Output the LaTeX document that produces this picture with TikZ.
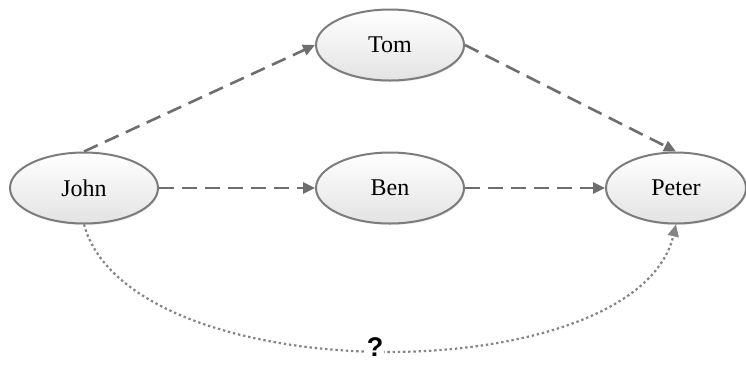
\documentclass[tikz,border=0pt]{standalone}
\usepackage{fontspec}
\setmainfont{Liberation Serif}
\newfontfamily\qfont{Liberation Sans}
\usetikzlibrary{shapes.geometric,arrows.meta,shadows}
\definecolor{edgegray}{HTML}{6E6E6E}
\definecolor{bordergray}{HTML}{7C7C7C}
\tikzset{
  person/.style={ellipse, draw=bordergray, line width=2pt, minimum width=148pt, minimum height=71pt,
    inner sep=0pt, top color=white, bottom color=black!11,
    drop shadow={shadow xshift=1pt, shadow yshift=-1.5pt, opacity=0.18},
    font=\fontsize{24}{28}\selectfont},
  rel/.style={draw=edgegray, line width=2.6pt, dash pattern=on 15pt off 8pt,
    -{Triangle[length=12pt,width=11pt]}, color=edgegray},
  unknown/.style={draw=edgegray!85, line width=2.2pt, dash pattern=on 2.4pt off 2.8pt,
    -{Triangle[length=12pt,width=11pt]}}
}
\begin{document}
\begin{tikzpicture}[x=1pt,y=-1pt]
\useasboundingbox (0,0) rectangle (746,368);
\node[person] (john) at (84,188) {John};
\node[person] (tom) at (390,45) {Tom};
\node[person] (ben) at (390,188) {Ben};
\node[person, minimum width=140pt] (peter) at (676,188) {Peter};
\draw[rel] (john.north) -- (tom.west);
\draw[rel] (tom.east) -- (peter.north);
\draw[rel] (john.east) -- (ben.west);
\draw[rel] (ben.east) -- (peter.west);
\draw[unknown] (john.south) .. controls +(46,168) and +(-40,168) .. (peter.south);
\node[fill=white, inner sep=1pt, font=\qfont\bfseries\fontsize{27}{30}\selectfont] (q) at (375,347) {?};
\end{tikzpicture}
\end{document}
